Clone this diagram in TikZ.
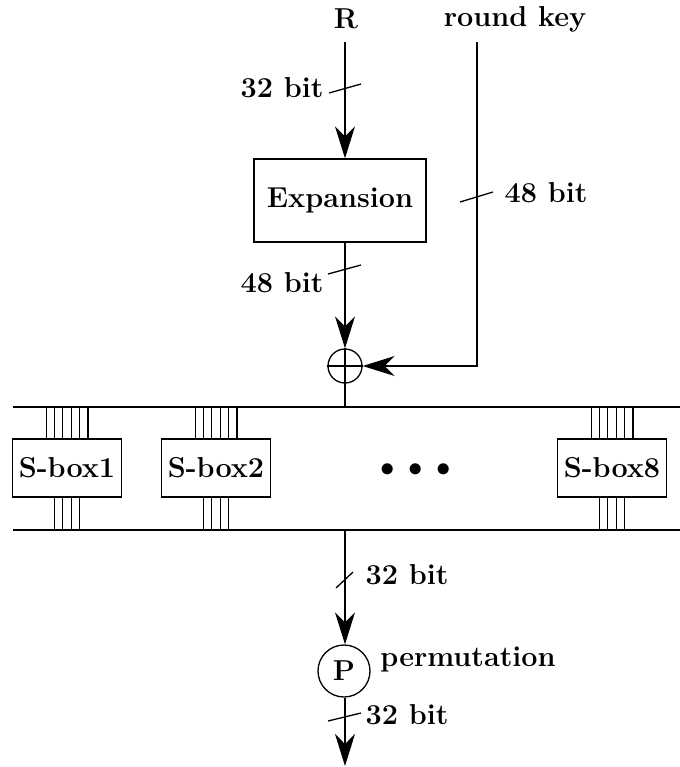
\documentclass[tikz,border=0pt]{standalone}
\usepackage{tikz}
\usetikzlibrary{arrows.meta}

\begin{document}
\begin{tikzpicture}[x=0.5pt, y=-0.5pt, line width=0.65pt,
		every node/.style={font=\Large\bfseries},
		flow/.style={-{Stealth[length=16pt,width=10pt,inset=5pt]}},
		unitbox/.style={draw, inner sep=0pt},
		sboxnode/.style={unitbox, minimum width=54.5pt, minimum height=29pt},
		ring/.style={draw, circle, inner sep=0pt}]
	\useasboundingbox (0,0) rectangle (680,767);

	% inputs
	\node (R) at (346,19) {R};
	\node (key) at (515,19) {round key};
	\coordinate (rin) at (345,42);
	\coordinate (kin) at (477,42);

	% expansion and xor
	\node[unitbox, minimum width=86pt, minimum height=41.5pt] (expansion) at (340,200.5) {Expansion};
	\node[ring, minimum size=17pt] (xor) at (345,366) {};
	\draw (xor.west) -- (xor.east);
	\draw (xor.north) -- (xor.south);

	\draw[flow] (rin) -- (rin |- expansion.north);
	\draw[flow] (expansion.south -| xor) -- (xor.north);
	\draw[flow] (kin) |- (xor.east);

	\draw (329,93) -- (361,84);
	\node at (282,88) {32 bit};
	\draw (328,274) -- (361,265);
	\node at (282,283) {48 bit};
	\draw (460,202) -- (493,192);
	\node at (546,193) {48 bit};

	% s-box layer
	\coordinate (busin) at (345,407);
	\coordinate (busout) at (345,530);
	\draw (13,407) -- (680,407);
	\draw (13,530) -- (680,530);
	\draw (xor.south) -- (busin);

	\node[sboxnode] (sbox1) at (67,468) {S-box1};
	\node[sboxnode] (sbox2) at (216,468) {S-box2};
	\node[sboxnode] (sbox8) at (612,468) {S-box8};
	\node (dots) at (415.5,470) {$\bullet\hspace{3.6pt}\bullet\hspace{3.6pt}\bullet$};

	\foreach \b in {sbox1,sbox2,sbox8} {
		\foreach \i in {-2.5,-1.5,-0.5,0.5,1.5,2.5}
			\draw ([xshift=\i*4.17pt]\b.north) -- ++(0,-32);
		\foreach \i in {-1.5,-0.5,0.5,1.5}
			\draw ([xshift=\i*4.17pt]\b.south) -- ++(0,33);
	}

	% permutation
	\node[ring, minimum size=26pt] (perm) at (344,671) {P};
	\node (permlabel) at (468,659) {permutation};
	\coordinate (out) at (345,766);

	\draw[flow] (busout) -- (busout |- perm.north);
	\draw[flow] (perm.south -| out) -- (out);

	\draw (336,588) -- (353,572);
	\node at (407,575) {32 bit};
	\draw (328,721) -- (361,713);
	\node at (407,715) {32 bit};
\end{tikzpicture}
\end{document}
